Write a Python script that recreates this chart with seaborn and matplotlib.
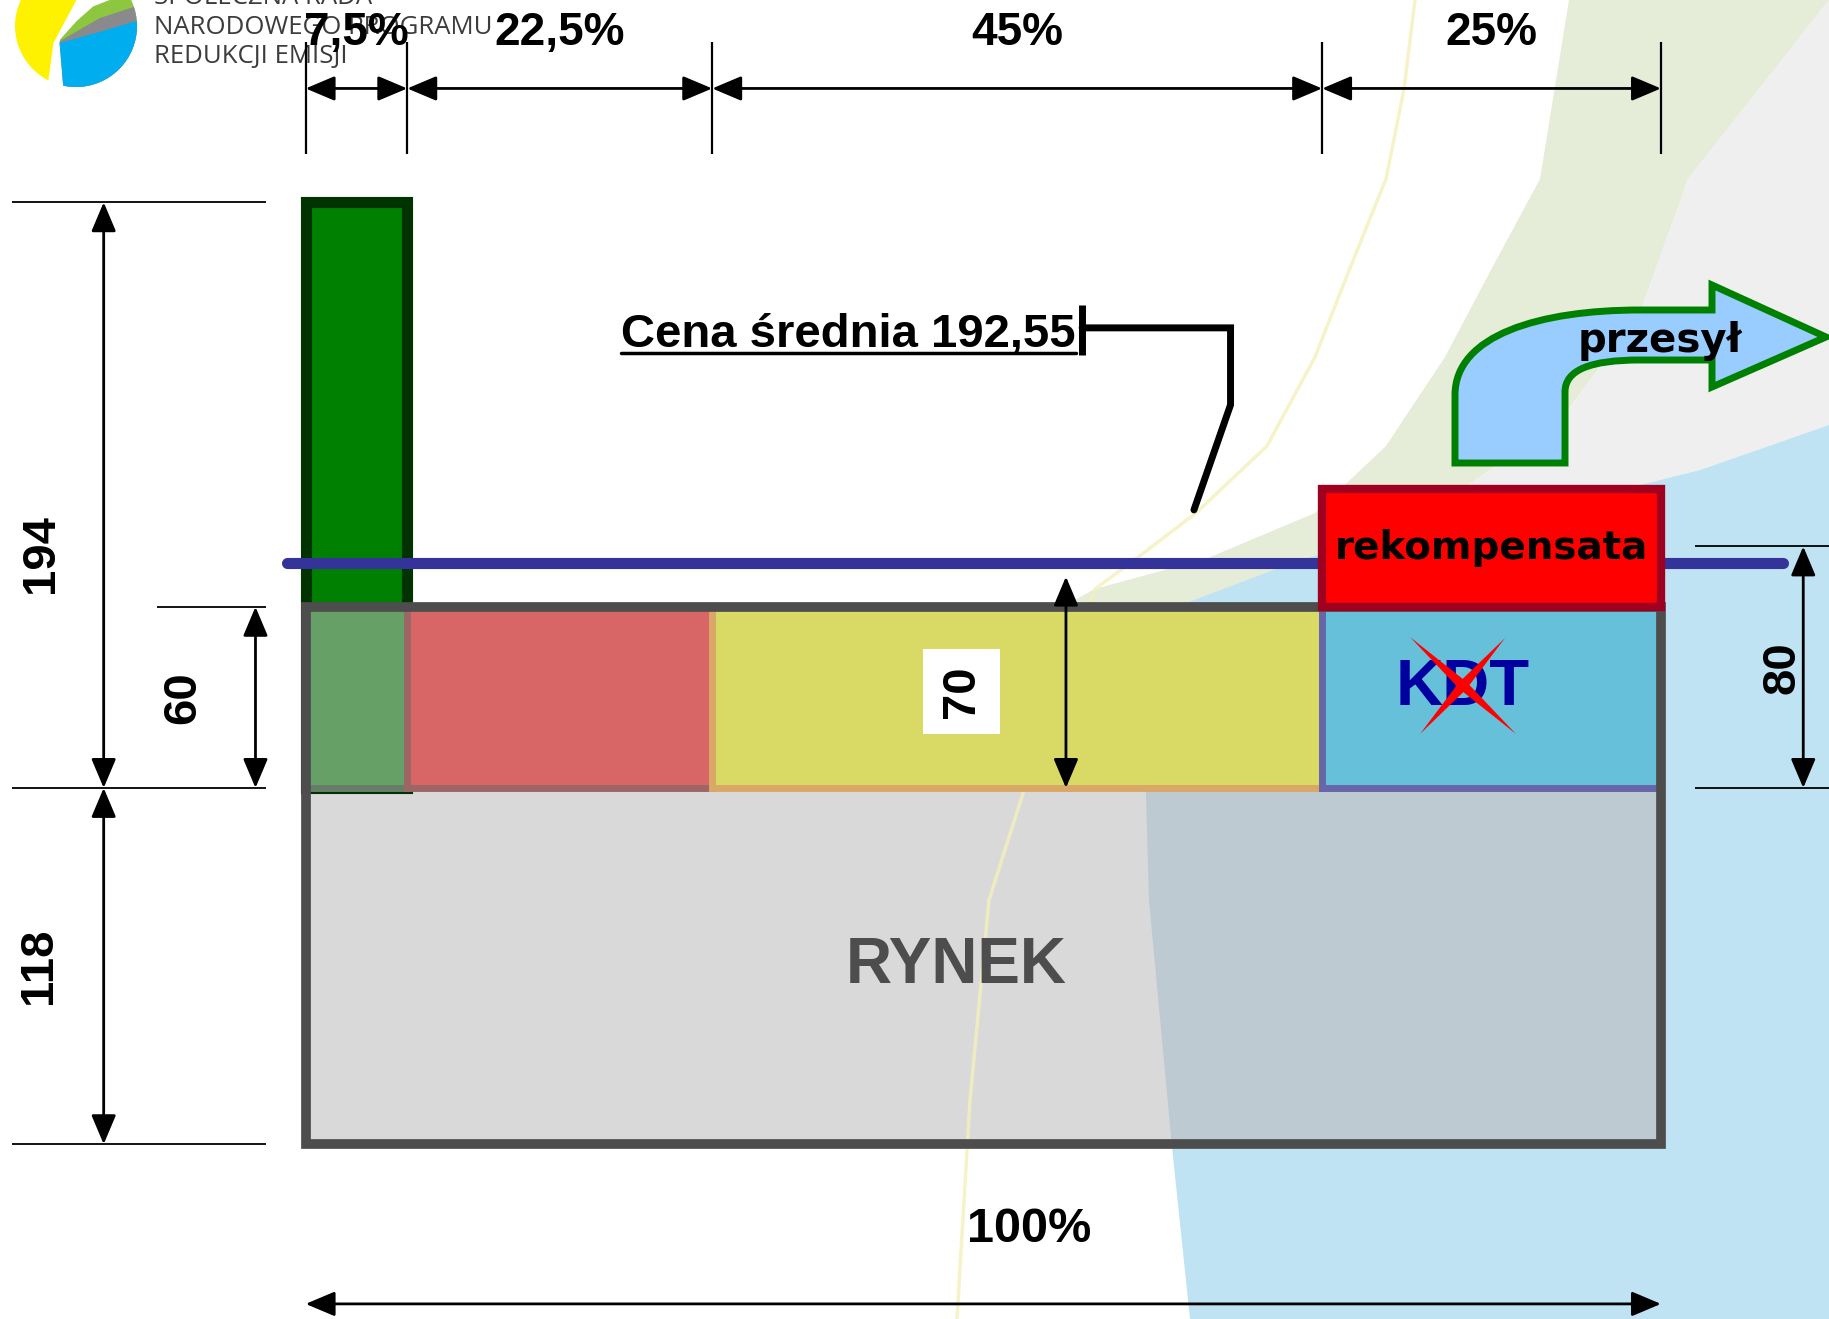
import numpy as np
import seaborn as sns
import matplotlib.pyplot as plt
from matplotlib.patches import Rectangle, Polygon, Circle, PathPatch
from matplotlib.path import Path

# --- data ---
shares = [7.5, 22.5, 45, 25]                 # % of volume
share_labels = ['7,5%', '22,5%', '45%', '25%']
segment_fill = ['#66a066', '#d96666', '#d9d966', '#66c0d9']
segment_edge = ['#687d68', '#9c6666', '#d9a866', '#6666a8']
market = 118          # RYNEK
band = 60             # support band on top of the market price
green_height = 194    # first segment
cost_70 = 70
cost_80 = 80
mean_price = 192.55
total_label = '100%'

sns.set_theme(style='white')
plt.rcParams['font.family'] = ['Liberation Sans', 'DejaVu Sans']
plt.rcParams['text.color'] = 'black'

W, H = 1829, 1319
fig = plt.figure(figsize=(W / 100, H / 100), dpi=100)
fig.patch.set_facecolor('white')
ax = fig.add_axes([0, 0, 1, 1])
ax.set_facecolor('white')


def px(pts):
    # full-size pixel coords -> axes fraction (decorations only)
    return [(x / W, 1 - y / H) for x, y in pts]


# --- background swooshes ---
green_band = [(1569, 0), (1540, 179), (1492, 268), (1445, 357), (1386, 446), (1315, 513),
              (1208, 558), (1095, 589), (1000, 640), (1141, 640), (1300, 565), (1440, 505),
              (1560, 420), (1640, 313), (1688, 179), (1759, 89), (1829, 0)]
grey_band = [(1829, 0), (1759, 89), (1688, 179), (1640, 313), (1560, 420), (1440, 505),
             (1300, 565), (1141, 640), (1141, 620), (1300, 560), (1450, 520), (1600, 495),
             (1700, 470), (1829, 425)]
blue_area = [(1141, 620), (1300, 560), (1450, 520), (1600, 495), (1700, 470), (1829, 425),
             (1829, 1319), (1190, 1319), (1172, 1147), (1149, 900)]
ax.add_patch(Polygon(px(green_band), transform=ax.transAxes, facecolor='#e5ecd8', edgecolor='none', zorder=0))
ax.add_patch(Polygon(px(grey_band), transform=ax.transAxes, facecolor='#efefef', edgecolor='none', zorder=0))
ax.add_patch(Polygon(px(blue_area), transform=ax.transAxes, facecolor='#c0e3f3', edgecolor='none', zorder=0.1))

# --- market block ---
lefts = np.cumsum([0] + shares[:-1])
rynek = ax.bar(0, market, width=100, align='edge', color='#d9d9d9', edgecolor='none', zorder=1)[0]
tint = Polygon(px(blue_area), transform=ax.transAxes, facecolor='#bdcad2', edgecolor='none', zorder=1.1)
ax.add_patch(tint)
tint.set_clip_path(rynek)

yellow_line = [(1415, 0), (1404, 89), (1386, 179), (1350, 268), (1315, 357), (1267, 446),
               (1196, 513), (1137, 558), (1095, 589), (1040, 740), (989, 900), (970, 1100), (957, 1319)]
yl = np.array(px(yellow_line))
ax.plot(yl[:, 0], yl[:, 1], transform=ax.transAxes, color='#f4f0bc', lw=2.5, alpha=0.8, zorder=1.2)

# tall green bar for the first segment
ax.bar(lefts[0], green_height, width=shares[0], bottom=market, align='edge',
       color='#008000', edgecolor='#003300', linewidth=8, zorder=2)

# coloured band segments
ax.bar(lefts, [band] * len(shares), width=shares, bottom=market, align='edge',
       color=segment_fill, edgecolor=segment_edge, linewidth=5, zorder=3)

# outer frame
ax.add_patch(Rectangle((0, 0), 100, market + band, fill=False, edgecolor='#4d4d4d', lw=7, zorder=4))

# mean price line
sns.lineplot(x=[-1.4, 109.0], y=[mean_price, mean_price], ax=ax, color='#333399',
             linewidth=8, zorder=5)

# rekompensata box on the last segment
REKOMP_H = 39
ax.add_patch(Rectangle((lefts[3], market + band), shares[3], REKOMP_H, facecolor='#ff0000',
                       edgecolor='#a00020', lw=6, zorder=6))
ax.text(lefts[3] + shares[3] / 2, market + band + REKOMP_H / 2, 'rekompensata',
        ha='center', va='center', fontsize=28, fontweight='bold', family='DejaVu Sans', zorder=7)

# labels inside blocks
ax.text(48, market / 2, 'RYNEK', ha='center', va='center', fontsize=46, fontweight='bold',
        color='#4d4d4d', zorder=7)
ax.text(85.4, market + band / 2 + 3, 'KDT', ha='center', va='center', fontsize=47,
        fontweight='bold', color='#0000a0', zorder=7)


def taper(p0, p1, w):
    (x0, y0), (x1, y1) = p0, p1
    mx, my = (x0 + x1) / 2, (y0 + y1) / 2
    dx, dy = x1 - x0, y1 - y0
    n = np.hypot(dx, dy)
    nx, ny = -dy / n * w, dx / n * w
    return [(x0, y0), (mx + nx, my + ny), (x1, y1), (mx - nx, my - ny)]


for a, b in [((1410, 637), (1516, 734)), ((1505, 638), (1420, 734))]:
    ax.add_patch(Polygon(px(taper(a, b, 5)), transform=ax.transAxes, facecolor='#ff0000',
                         edgecolor='none', zorder=8))


# --- dimension arrows ---
def dim(x0, y0, x1, y1, lw=2):
    ax.annotate('', xy=(x1, y1), xytext=(x0, y0), zorder=8,
                arrowprops=dict(arrowstyle='<|-|>,head_length=0.9,head_width=0.38',
                                color='black', lw=lw, shrinkA=0, shrinkB=0, mutation_scale=20))


edges = np.concatenate([[0], np.cumsum(shares)])
ax.vlines(edges, 328, 365, color='black', lw=1.6, zorder=8)
for i, lab in enumerate(share_labels):
    dim(edges[i], 349.7, edges[i + 1], 349.7)
    ax.text((edges[i] + edges[i + 1]) / 2, 368, lab, ha='center', va='center',
            fontsize=33, fontweight='bold', zorder=9)

# left side
ax.hlines([market + green_height, market, 0], -21.7, -2.9, color='black', lw=1.3, zorder=8)
ax.hlines(market + band, -11.0, -2.9, color='black', lw=1.3, zorder=8)
dim(-14.9, market, -14.9, market + green_height)
dim(-14.9, 0, -14.9, market)
dim(-3.7, market, -3.7, market + band)
ax.text(-19.5, market + green_height * 0.4, str(green_height), rotation=90, ha='center',
        va='center', fontsize=34, fontweight='bold', zorder=9)
ax.text(-19.7, market / 2, str(market), rotation=90, ha='center', va='center',
        fontsize=34, fontweight='bold', zorder=9)
ax.text(-9.0, market + band / 2, str(band), rotation=90, ha='center', va='center',
        fontsize=34, fontweight='bold', zorder=9)

# right side (80)
ax.hlines([market, market + cost_80], 102.5, 112.4, color='black', lw=1.3, zorder=8)
dim(110.5, market, 110.5, market + cost_80)
ax.text(109.0, market + cost_80 / 2, str(cost_80), rotation=90, ha='center', va='center',
        fontsize=34, fontweight='bold', zorder=9)

# 70 inside yellow segment
dim(56.1, market, 56.1, market + cost_70)
ax.text(48.4, market + band / 2 + 2, str(cost_70), rotation=90, ha='center', va='center',
        fontsize=34, fontweight='bold', zorder=9,
        bbox=dict(boxstyle='square,pad=0.35', facecolor='white', edgecolor='none'))

# bottom 100%
dim(0, -52.9, 100, -52.9)
ax.text(53.4, -28.4, total_label, ha='center', va='center', fontsize=35, fontweight='bold', zorder=9)

# --- mean price label with leader ---
ax.set_xlim(-22.55, 112.4)
ax.set_ylim(-57.9, 379.0)
ax.axis('off')

t = ax.text(23.3, 264.1, 'Cena średnia ' + f'{mean_price:.2f}'.replace('.', ','), ha='left',
            va='baseline', fontsize=34, fontweight='bold', zorder=9)
renderer = fig.canvas.get_renderer()
bb = t.get_window_extent(renderer)
xr = ax.transData.inverted().transform((bb.x1, bb.y0))[0]
ax.plot([23.3, xr], [262.1, 262.1], color='black', lw=2.5, zorder=9)
ax.plot([xr + 0.45, xr + 0.45], [261.5, 278.0], color='black', lw=5, zorder=9, solid_capstyle='butt')
ax.plot([xr + 0.45, xr + 11.4, xr + 11.4, xr + 8.7], [270.4, 270.4, 244.9, 210.1],
        color='black', lw=5, zorder=9, solid_joinstyle='miter')

# --- "przesył" bent arrow ---
verts = [(1455, 463), (1455, 395), (1455, 335), (1540, 310), (1640, 310), (1712, 310),
         (1712, 285), (1826, 337), (1712, 387), (1712, 360), (1640, 360), (1590, 360),
         (1565, 370), (1565, 392), (1565, 463), (1455, 463)]
codes = [Path.MOVETO, Path.LINETO, Path.CURVE4, Path.CURVE4, Path.CURVE4, Path.LINETO,
         Path.LINETO, Path.LINETO, Path.LINETO, Path.LINETO, Path.LINETO, Path.CURVE4,
         Path.CURVE4, Path.CURVE4, Path.LINETO, Path.CLOSEPOLY]
ax.add_patch(PathPatch(Path(px(verts), codes), transform=ax.transAxes, facecolor='#99ccff',
                       edgecolor='#008000', lw=5, zorder=6))
ax.text(*px([(1660, 352)])[0], 'przesył', transform=ax.transAxes, ha='center', va='baseline',
        fontsize=29, fontweight='bold', family='DejaVu Sans', zorder=7)

# --- logo ---
for (lx, ly), line in zip([(154, -2), (154, 28), (154, 57)],
                          ['SPOŁECZNA RADA', 'NARODOWEGO PROGRAMU', 'REDUKCJI EMISJI']):
    ax.text(*px([(lx, ly)])[0], line, transform=ax.transAxes, ha='left', va='center',
            fontsize=18.5, color='#3c3c3c', family=['Open Sans', 'DejaVu Sans'], zorder=1.5)

lax = fig.add_axes([15 / W, 1 - 87 / H, 122 / W, 122 / H])
lax.set_xlim(-1, 1)
lax.set_ylim(-1, 1)
lax.axis('off')
clip = Circle((0, 0), 1, transform=lax.transData)
shapes = [
    ([(-1.1, 1.1), (0.05, 1.1), (0.01, 0.43), (-0.37, -0.28), (-0.48, -1.1), (-1.1, -1.1)], '#fff200'),
    ([(-0.26, -0.22), (0.01, 0.08), (0.28, 0.32), (0.56, 0.43), (0.8, 0.8), (1.1, 0.8), (1.1, -1.1), (-0.2, -1.1)], '#8dc63f'),
    ([(-0.27, -0.25), (0.39, 0.13), (0.97, 0.32), (1.1, 0.35), (1.1, -1.1), (-0.2, -1.1)], '#8a8a8c'),
    ([(-0.27, -0.28), (0.34, -0.11), (0.99, 0.08), (1.1, 0.08), (1.1, -1.1), (-0.2, -1.1)], '#00aeef'),
]
for pts, col in shapes:
    p = Polygon(pts, facecolor=col, edgecolor='none')
    lax.add_patch(p)
    p.set_clip_path(clip)

fig.savefig('out.png', dpi=100, facecolor='white')
